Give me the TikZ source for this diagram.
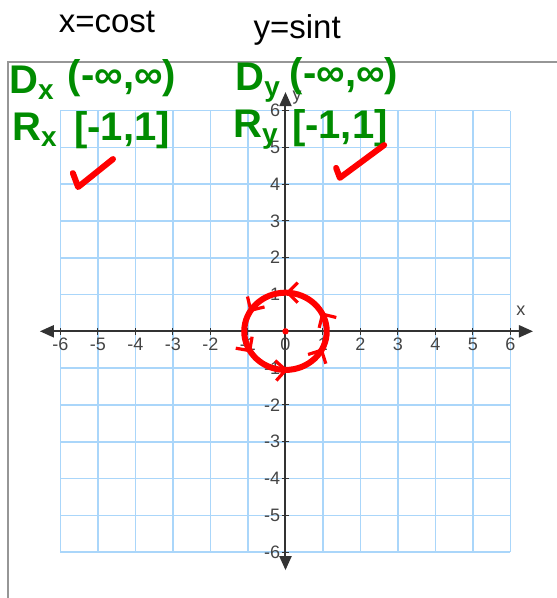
\documentclass[tikz,border=0pt]{standalone}
\usepackage{fontspec}
\setmainfont{Liberation Sans}
\usetikzlibrary{arrows.meta, decorations.markings}

\definecolor{gridblue}{RGB}{170,214,250}
\definecolor{axisgray}{RGB}{51,51,51}
\definecolor{labelgray}{RGB}{68,68,68}
\definecolor{framegray}{RGB}{150,150,150}
\definecolor{inkgreen}{RGB}{0,140,0}
\definecolor{inkred}{RGB}{255,0,0}

\tikzset{
  ticklabel/.style={font=\fontsize{9}{10}\selectfont, text=labelgray, inner sep=1pt},
  ink/.style={font=\fontsize{20}{22}\selectfont\bfseries, text=inkgreen, inner sep=0pt},
  check/.style={inkred, line width=3pt, line cap=round, line join=round},
  loopdir/.style={postaction={decorate}, decoration={markings,
    mark=between positions 0.08 and 0.95 step 0.17 with {\arrow[inkred, line width=1.6pt]{Straight Barb[length=5pt, width=10pt]}}}}
}

\begin{document}
\begin{tikzpicture}[x=18.75pt, y=18.4pt, >={Triangle[length=7pt, width=6pt]}]
    \useasboundingbox (-7.613,-7.247) rectangle (7.24,9.003);

    % Frame of the graph paper
    \draw[framegray, line width=1pt] (-7.4,-7.4) -- (-7.4,7.318) -- (7.4,7.318);

    % Grid lines
    \draw[gridblue, line width=0.8pt, step=1] (-6,-6) grid (6,6);

    % Axes
    \draw[<->, axisgray, line width=1pt] (-6.55,0) -- (6.6,0);
    \draw[<->, axisgray, line width=1pt] (0,-6.49) -- (0,6.5);
    \node[ticklabel] (xlab) at (6.28,0.55) {x};
    \node[ticklabel] (ylab) at (0.31,6.34) {y};

    % Ticks and their numbers
    \foreach \i in {-6,...,6} {
        \draw[axisgray, line width=0.5pt] (\i,-0.1) -- (\i,0.1);
        \node[ticklabel, anchor=north] (xt\i) at (\i,-0.12) {\i};
    }
    \foreach \i in {-6,...,-1,1,2,...,6} {
        \draw[axisgray, line width=0.5pt] (-0.1,\i) -- (0.1,\i);
        \node[ticklabel, anchor=east] (yt\i) at (-0.08,\i) {\i};
    }

    % Parametric equations
    \node[font=\fontsize{16.5}{18}\selectfont] (xeq) at (-4.76,8.4) {x=cost};
    \node[font=\fontsize{16.5}{18}\selectfont] (yeq) at (0.31,8.19) {y=sint};

    % Domain and range notes
    \node[ink] (dx) at (-6.76,6.75) {D\textsubscript{x}};
    \node[ink] (dxint) at (-4.36,6.88) {(-∞,∞)};
    \node[ink] (rx) at (-6.68,5.47) {R\textsubscript{x}};
    \node[ink] (rxint) at (-4.36,5.47) {[-1,1]};
    \node[ink] (dy) at (-0.73,6.75) {D\textsubscript{y}};
    \node[ink] (dyint) at (1.56,6.94) {(-∞,∞)};
    \node[ink] (ry) at (-0.79,5.47) {R\textsubscript{y}};
    \node[ink] (ryint) at (1.45,5.53) {[-1,1]};

    % Check marks
    \draw[check] (-5.67,4.30) -- (-5.53,3.92) -- (-4.6,4.68);
    \draw[check] (1.35,4.44) -- (1.45,4.17) -- (2.63,5.06);

    % Unit circle traced counterclockwise
    \draw[inkred, line width=3pt, loopdir] (0,0) ellipse [x radius=1.1, y radius=1.05];
    \fill[inkred] (0,0) circle (1.6pt);
\end{tikzpicture}
\end{document}
